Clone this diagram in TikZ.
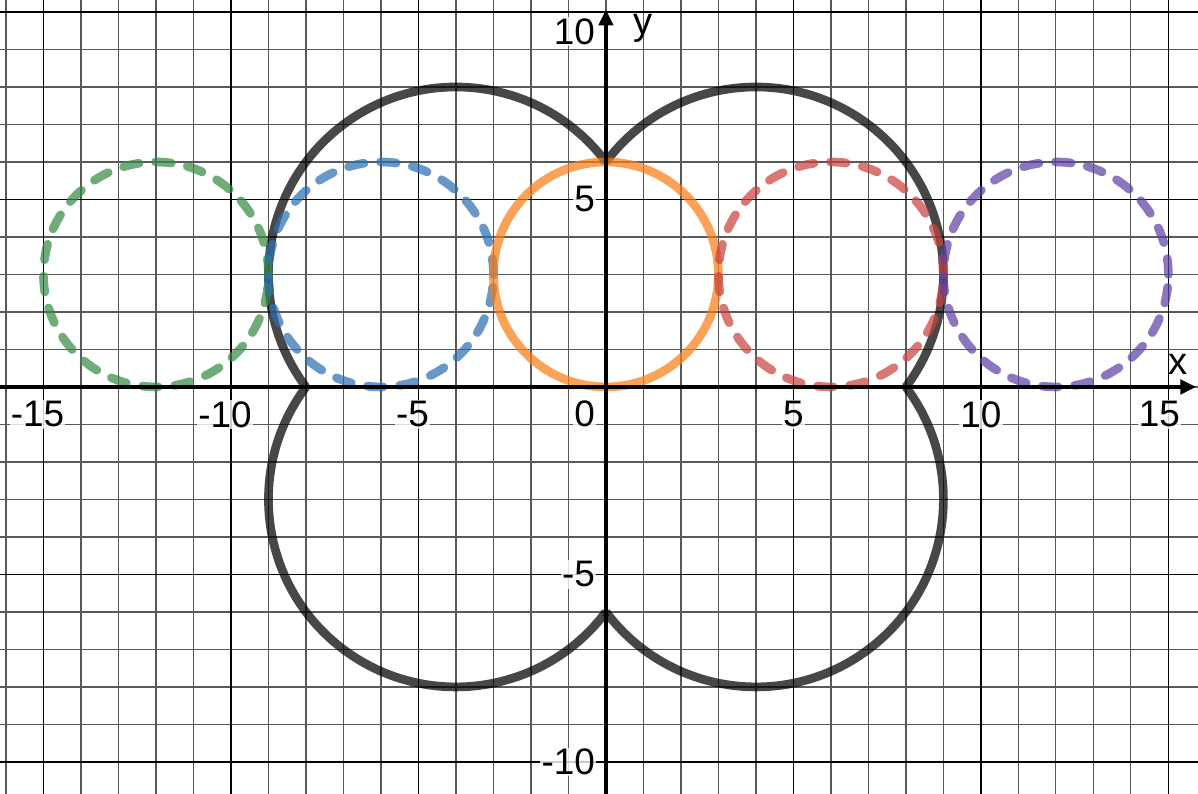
\documentclass[tikz,border=0pt]{standalone}
\usepackage{fontspec}
\setmainfont{Liberation Sans}
\usetikzlibrary{arrows.meta}
\definecolor{dgreen}{HTML}{388C46}
\definecolor{dblue}{HTML}{2D70B3}
\definecolor{dorange}{HTML}{FA7E19}
\definecolor{dred}{HTML}{C74440}
\definecolor{dpurple}{HTML}{6042A6}
\begin{document}
\begin{tikzpicture}[x=1cm,y=1cm,
  minorgrid/.style={draw=black!65, line width=0.9pt},
  majorgrid/.style={draw=black, line width=1.3pt},
  axisline/.style={draw=black, line width=3pt, -{Triangle[length=0.42cm,width=0.38cm]}},
  curve/.style={line width=6.6pt, draw opacity=0.72},
  dashcurve/.style={curve, dash pattern=on 12pt off 12.5pt, line cap=round},
  ticklab/.style={font=\fontsize{28}{28}\selectfont, fill=white, fill opacity=0.8, text opacity=1, inner sep=1pt},
  axlab/.style={font=\fontsize{29}{29}\selectfont, inner sep=0pt}]
\useasboundingbox (-16.16,-10.85) rectangle (15.79,10.32);
\begin{scope}
\clip (-16.16,-10.85) rectangle (15.79,10.32);
% grid
\foreach \x in {-16,...,15} {
  \draw[minorgrid] (\x,-10.85) -- (\x,10.32);
}
\foreach \y in {-10,...,10} {
  \draw[minorgrid] (-16.16,\y) -- (15.79,\y);
}
\foreach \x in {-15,-10,-5,5,10,15} {
  \draw[majorgrid] (\x,-10.85) -- (\x,10.32);
}
\foreach \y in {-10,-5,5,10} {
  \draw[majorgrid] (-16.16,\y) -- (15.79,\y);
}
% tick labels
\node[ticklab] (lxm15) at (-15.16,-0.73) {-15};
\node[ticklab] (lxm10) at (-10.16,-0.73) {-10};
\node[ticklab] (lxm5) at (-5.16,-0.73) {-5};
\node[ticklab, anchor=east] (lo) at (-0.25,-0.72) {0};
\node[ticklab] (lx5) at (5,-0.73) {5};
\node[ticklab] (lx10) at (10,-0.73) {10};
\node[ticklab] (lx15) at (14.76,-0.73) {15};
\node[ticklab, anchor=east] (ly10) at (-0.25,9.47) {10};
\node[ticklab, anchor=east] (ly5) at (-0.25,5) {5};
\node[ticklab, anchor=east] (lym5) at (-0.25,-5) {-5};
\node[ticklab, anchor=east] (lym10) at (-0.25,-10) {-10};
% black curve
\draw[curve, draw=black] (0,6) arc[start angle=143.13, end angle=-36.87, radius=5];
\draw[curve, draw=black] (8,0) arc[start angle=36.87, end angle=-143.13, radius=5];
\draw[curve, draw=black] (0,-6) arc[start angle=-36.87, end angle=-216.87, radius=5];
\draw[curve, draw=black] (-8,0) arc[start angle=216.87, end angle=36.87, radius=5];
% circles
\draw[dashcurve, draw=dgreen] (-12,3) circle[radius=3];
\draw[dashcurve, draw=dblue] (-6,3) circle[radius=3];
\draw[curve, draw=dorange] (0,3) circle[radius=3];
\draw[dashcurve, draw=dred] (6,3) circle[radius=3];
\draw[dashcurve, draw=dpurple] (12,3) circle[radius=3];
% axes
\coordinate (xs) at (-16.16,0);
\coordinate (xe) at (15.74,0);
\coordinate (ys) at (0,-10.85);
\coordinate (ye) at (0,10.06);
\draw[axisline] (xs) -- (xe);
\draw[axisline] (ys) -- (ye);
\node[axlab] (xl) at (15.25,0.6) {x};
\node[axlab] (yl) at (0.99,9.55) {y};
\end{scope}
\end{tikzpicture}
\end{document}
